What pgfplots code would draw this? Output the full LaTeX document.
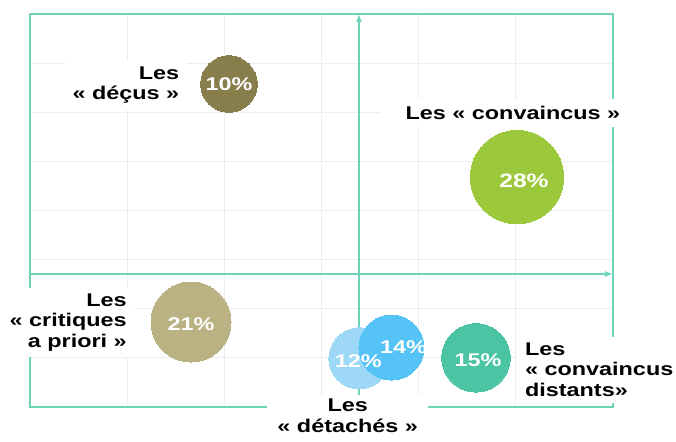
\documentclass[border=0pt]{standalone}
\usepackage{fontspec}
\setmainfont{Liberation Sans}[FakeStretch=1.27]
\usepackage{pgfplots}
\pgfplotsset{compat=1.18}
\usetikzlibrary{arrows.meta}
\definecolor{framec}{HTML}{6FD3B9}
\definecolor{cdecus}{HTML}{877E4C}
\definecolor{cconv}{HTML}{9BC93B}
\definecolor{ccrit}{HTML}{BBB284}
\definecolor{cdet}{HTML}{9DD9F7}
\definecolor{cdetb}{HTML}{55C3F6}
\definecolor{cdist}{HTML}{4BC4A4}
\newcommand\lab{\fontsize{18.5}{20.5}\selectfont\bfseries}
\newcommand\pct{\fontsize{18.5}{20.5}\selectfont\bfseries}
\pgfplotsset{bubble/.style n args={2}{only marks, mark=*, mark size=#1, mark options={draw=#2, fill=#2, line width=0pt},
  nodes near coords, point meta=explicit symbolic, nodes near coords align={center},
  every node near coord/.append style={text=white, font=\pct, anchor=center, inner sep=0pt}}}
\begin{document}
\begin{tikzpicture}
\useasboundingbox (-30bp,-35bp) rectangle (646bp,407bp);
\begin{axis}[at={(0,0)}, anchor=south west, scale only axis, width=583bp, height=393bp,
  xmin=0, xmax=6, ymin=0, ymax=8, xtick={0,...,6}, ytick={0,...,8},
  xticklabels={}, yticklabels={}, major tick length=0pt,
  grid=major, grid style={draw=black!7, line width=0.8bp},
  axis line style={draw=none}, clip=false]
\draw[framec, line width=1.3bp] (axis cs:0,0) rectangle (axis cs:6,8);
\draw[framec, line width=1.3bp, -{Latex[length=8bp,width=6bp]}] (axis cs:3.386,0) -- (axis cs:3.386,8);
\draw[framec, line width=1.3bp, -{Latex[length=8bp,width=6bp]}] (axis cs:0,2.707) -- (axis cs:6,2.707);
% labels with white boxes
\node[fill=white, align=right, font=\lab, anchor=east, inner xsep=8bp, inner ysep=6bp] at (axis cs:1.62,6.55) {Les\\« déçus »};
\node[fill=white, align=center, font=\lab, anchor=center, inner xsep=26bp, inner ysep=7bp] at (axis cs:4.97,5.98) {Les « convaincus »};
\node[fill=white, align=right, font=\lab, anchor=east, inner xsep=8bp, inner ysep=6bp] at (axis cs:1.08,1.72) {Les\\« critiques\\a priori »};
\node[fill=white, align=center, font=\lab, anchor=north, inner xsep=10bp, inner ysep=4bp] at (axis cs:3.27,0.25) {Les\\« détachés »};
\node[fill=white, align=left, font=\lab, anchor=west, inner xsep=9bp, inner ysep=6bp] at (axis cs:5.0,0.76) {Les\\« convaincus\\distants»};
% bubbles
\addplot[bubble={28.3bp}{cdecus}] coordinates {(2.048,6.575) [10\%]};
\addplot[bubble={46.7bp}{cconv}, every node near coord/.append style={xshift=7bp, yshift=-4bp, font=\fontsize{19.5}{21}\selectfont\bfseries}] coordinates {(5.012,4.68) [28\%]};
\addplot[bubble={40bp}{ccrit}, every node near coord/.append style={yshift=-2bp}] coordinates {(1.657,1.73) [21\%]};
\addplot[only marks, mark=*, mark size=30.5bp, mark options={draw=cdet, fill=cdet, line width=0pt}] coordinates {(3.39,0.99)};
\addplot[bubble={32.5bp}{cdetb}, every node near coord/.append style={xshift=12bp}] coordinates {(3.72,1.21) [14\%]};
\addplot[bubble={0pt}{white}, mark=none, every node near coord/.append style={xshift=-1bp, yshift=-3bp}] coordinates {(3.39,0.99) [12\%]};
\addplot[bubble={34.2bp}{cdist}, every node near coord/.append style={xshift=2bp, yshift=-2bp}] coordinates {(4.59,1.0) [15\%]};
\end{axis}
\end{tikzpicture}
\end{document}
